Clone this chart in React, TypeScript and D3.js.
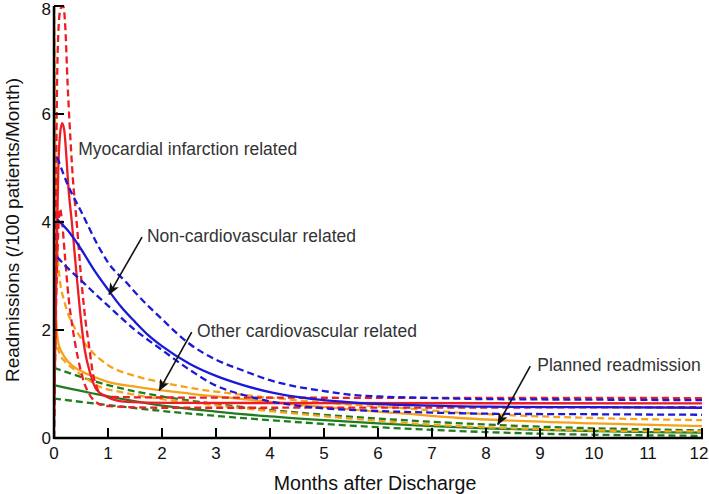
import React from "react";
import * as d3 from "d3";

type P = [number, number];

// x ticks / y ticks
const xTicks = [0, 1, 2, 3, 4, 5, 6, 7, 8, 9, 10, 11, 12];
const yTicks = [0, 2, 4, 6, 8];

// Myocardial infarction related (red)
const miMean: P[] = [[0, 0.3], [0.02, 1.5], [0.05, 3.5], [0.08, 5.0], [0.11, 5.6], [0.15, 5.83], [0.19, 5.7], [0.23, 5.2], [0.27, 4.6], [0.33, 4.0], [0.42, 3.0], [0.52, 2.0], [0.57, 1.63], [0.67, 1.2], [0.79, 0.89], [0.98, 0.76], [1.35, 0.67], [2.1, 0.65], [12, 0.64]];
const miUpper: P[] = [[0, 0], [0.03, 3.5], [0.05, 6.0], [0.08, 7.5], [0.12, 7.95], [0.17, 8.0], [0.21, 7.6], [0.25, 6.6], [0.29, 5.8], [0.35, 4.8], [0.42, 4.0], [0.5, 3.0], [0.58, 2.2], [0.65, 1.7], [0.72, 1.2], [0.8, 0.92], [0.9, 0.8], [1.1, 0.76], [2, 0.75], [12, 0.74]];
const miLower: P[] = [[0, 0], [0.03, 2.0], [0.07, 3.6], [0.11, 4.25], [0.15, 4.0], [0.2, 3.4], [0.27, 2.6], [0.35, 2.0], [0.45, 1.45], [0.55, 1.05], [0.66, 0.8], [0.8, 0.65], [1.0, 0.59], [2, 0.56], [12, 0.57]];

// Non-cardiovascular related (blue)
const ncMean: P[] = [[0.06, 4.05], [0.25, 3.85], [0.5, 3.5], [0.75, 3.1], [1, 2.75], [1.25, 2.42], [1.5, 2.15], [1.75, 1.9], [2, 1.7], [2.5, 1.38], [3, 1.15], [3.5, 0.98], [4, 0.85], [4.5, 0.76], [5, 0.7], [5.5, 0.66], [6, 0.63], [7, 0.6], [8, 0.58], [10, 0.57], [12, 0.56]];
const ncUpper: P[] = [[0.06, 5.2], [0.25, 4.7], [0.5, 4.2], [0.85, 3.5], [1.0, 3.25], [1.35, 2.87], [1.5, 2.7], [2, 2.2], [2.5, 1.75], [3, 1.45], [3.5, 1.25], [4, 1.07], [4.5, 0.95], [5, 0.87], [5.5, 0.8], [6, 0.77], [7, 0.74], [8, 0.72], [10, 0.71], [12, 0.7]];
const ncLower: P[] = [[0.06, 3.35], [0.25, 3.15], [0.5, 2.92], [0.75, 2.68], [1, 2.45], [1.5, 2.0], [2, 1.63], [2.5, 1.27], [3, 0.97], [3.5, 0.8], [4, 0.68], [4.5, 0.6], [5, 0.55], [6, 0.5], [7, 0.47], [8, 0.45], [10, 0.44], [12, 0.43]];

// Other cardiovascular related (orange)
const ocMean: P[] = [[0, 8], [0.01, 5], [0.02, 3], [0.04, 2.2], [0.08, 1.76], [0.15, 1.58], [0.24, 1.44], [0.35, 1.33], [0.54, 1.22], [0.75, 1.13], [1, 1.04], [1.5, 0.95], [2, 0.88], [2.7, 0.8], [3.5, 0.72], [4.5, 0.62], [5.5, 0.53], [6.5, 0.45], [7.5, 0.37], [8.5, 0.32], [10, 0.27], [12, 0.22]];
const ocUpper: P[] = [[0, 8], [0.03, 5], [0.06, 3.6], [0.1, 3.0], [0.2, 2.5], [0.35, 2.1], [0.5, 1.85], [0.7, 1.6], [1, 1.35], [1.5, 1.15], [2, 1.03], [2.7, 0.9], [3.5, 0.8], [4.5, 0.7], [5.5, 0.62], [6.5, 0.55], [7.5, 0.47], [8.5, 0.42], [10, 0.37], [12, 0.33]];
const ocLower: P[] = [[0, 8], [0.01, 4], [0.03, 2.3], [0.06, 1.75], [0.11, 1.55], [0.2, 1.42], [0.36, 1.28], [0.6, 1.1], [0.85, 0.95], [1.2, 0.86], [1.5, 0.8], [2, 0.72], [2.7, 0.64], [3.5, 0.55], [4.5, 0.45], [5.5, 0.36], [6.5, 0.28], [7.5, 0.22], [8.5, 0.18], [10, 0.14], [12, 0.12]];

// Planned readmission (green)
const prMean: P[] = [[0, 0.98], [1, 0.77], [2, 0.6], [3, 0.49], [4, 0.4], [5, 0.33], [6, 0.27], [7, 0.22], [8, 0.18], [9, 0.15], [10, 0.13], [11, 0.11], [12, 0.1]];
const prUpper: P[] = [[0, 1.3], [1, 0.98], [2, 0.77], [3, 0.63], [4, 0.52], [5, 0.43], [6, 0.36], [7, 0.3], [8, 0.25], [9, 0.21], [10, 0.18], [11, 0.16], [12, 0.14]];
const prLower: P[] = [[0, 0.73], [1, 0.61], [2, 0.5], [3, 0.41], [4, 0.33], [5, 0.26], [6, 0.2], [7, 0.15], [8, 0.11], [9, 0.08], [10, 0.06], [11, 0.05], [12, 0.04]];

const RED = "#ee1c24";
const BLUE = "#1a1ad6";
const ORANGE = "#f7a21b";
const GREEN = "#1f7d1f";

const series = [
  { data: prLower, color: GREEN, dash: true },
  { data: prUpper, color: GREEN, dash: true },
  { data: prMean, color: GREEN, dash: false },
  { data: ocLower, color: ORANGE, dash: true },
  { data: ocUpper, color: ORANGE, dash: true },
  { data: ocMean, color: ORANGE, dash: false },
  { data: miLower, color: RED, dash: true },
  { data: miUpper, color: RED, dash: true },
  { data: miMean, color: RED, dash: false },
  { data: ncLower, color: BLUE, dash: true },
  { data: ncUpper, color: BLUE, dash: true },
  { data: ncMean, color: BLUE, dash: false },
];

// annotations: text, text anchor position in data units, arrow from/to in data units
const annotations = [
  { text: "Myocardial infarction related", tx: 0.45, ty: 5.35, arrow: null as null | [P, P] },
  { text: "Non-cardiovascular related", tx: 1.72, ty: 3.75, arrow: [[1.63, 3.72], [1.02, 2.66]] as [P, P] },
  { text: "Other cardiovascular related", tx: 2.65, ty: 1.98, arrow: [[2.55, 1.96], [1.95, 0.88]] as [P, P] },
  { text: "Planned readmission", tx: 8.95, ty: 1.35, arrow: [[8.82, 1.33], [8.22, 0.25]] as [P, P] },
];

export default function App() {
  const W = 709, H = 494;
  const x = d3.scaleLinear().domain([0, 12]).range([54, 702]);
  const y = d3.scaleLinear().domain([0, 8]).range([438, 6]);
  const line = d3.line<P>().x(d => x(d[0])).y(d => y(d[1])).curve(d3.curveMonotoneX);
  const font = "'Liberation Sans', Arial, sans-serif";
  return (
    <svg width={W} height={H} style={{ position: "absolute", left: 0, top: 0, background: "#fff" }} fontFamily={font}>
      <defs>
        <clipPath id="plot">
          <rect x={x(0)} y={y(8) - 2} width={x(12) - x(0) + 2} height={y(0) - y(8) + 2} />
        </clipPath>
        <marker id="arr" viewBox="0 0 12 10" refX="11" refY="5" markerWidth="12" markerHeight="10" markerUnits="userSpaceOnUse" orient="auto">
          <path d="M0,0 L12,5 L0,10 L3,5 Z" fill="#111" />
        </marker>
      </defs>
      <g clipPath="url(#plot)">
        {series.map((s, i) => (
          <path key={i} d={line(s.data) || ""} fill="none" stroke={s.color} strokeWidth={2.3}
            strokeDasharray={s.dash ? "7,4" : undefined} />
        ))}
      </g>
      {/* axes */}
      <line x1={x(0)} x2={x(12) + 1} y1={y(0)} y2={y(0)} stroke="#000" strokeWidth={2.5} />
      <line x1={x(0)} x2={x(0)} y1={y(0) + 1} y2={y(8)} stroke="#000" strokeWidth={2.5} />
      {xTicks.map(t => (
        <g key={"x" + t}>
          <line x1={x(t)} x2={x(t)} y1={y(0)} y2={y(0) - 10} stroke="#000" strokeWidth={2} />
          <text x={t === 12 ? x(t) - 3 : x(t)} y={y(0) + 21} textAnchor="middle" fontSize={17} fill="#111">{t}</text>
        </g>
      ))}
      {yTicks.map(t => (
        <g key={"y" + t}>
          <line x1={x(0)} x2={x(0) + 10} y1={y(t)} y2={y(t)} stroke="#000" strokeWidth={2} />
          <text x={x(0) - 3} y={t === 8 ? y(t) + 9 : y(t) + 6} textAnchor="end" fontSize={17} fill="#111">{t}</text>
        </g>
      ))}
      <text x={375} y={490} textAnchor="middle" fontSize={19.6} fill="#111">Months after Discharge</text>
      <text transform={`translate(19,230) rotate(-90)`} textAnchor="middle" fontSize={19} fill="#111">Readmissions (/100 patients/Month)</text>
      {annotations.map((a, i) => (
        <g key={"a" + i}>
          <text x={x(a.tx)} y={y(a.ty) + 6} fontSize={17.5} fill="#333">{a.text}</text>
          {a.arrow && (
            <line x1={x(a.arrow[0][0])} y1={y(a.arrow[0][1])} x2={x(a.arrow[1][0])} y2={y(a.arrow[1][1])}
              stroke="#111" strokeWidth={1.6} markerEnd="url(#arr)" />
          )}
        </g>
      ))}
    </svg>
  );
}
